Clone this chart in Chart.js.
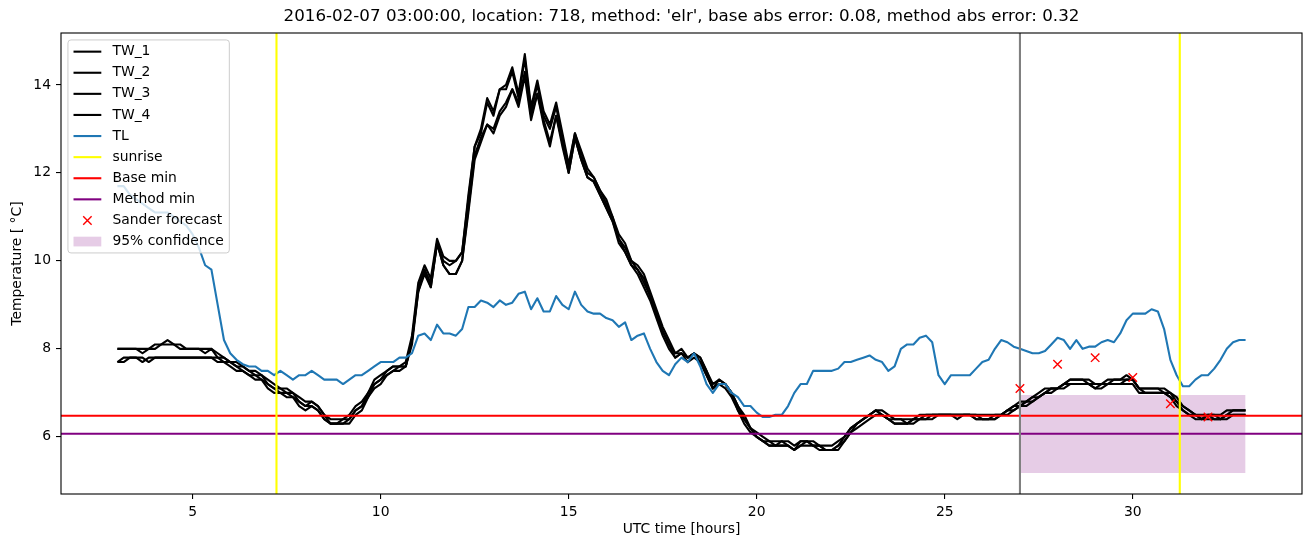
<!DOCTYPE html>
<html>
<head>
<meta charset="utf-8">
<title>TW / TL temperatures, location 718</title>
<script src="https://cdn.jsdelivr.net/npm/chart.js@4.4.1/dist/chart.umd.min.js"></script>
<style>
  html, body { margin: 0; padding: 0; background: #fff; }
  canvas { display: block; }
</style>
</head>
<body>
<canvas id="chart" width="1310" height="547"></canvas>
<script>
// samples every 10 minutes, from hour 3 to hour 33
const START_HOUR = 3;
const SAMPLES_PER_HOUR = 6;

const TW_1 = [
  8.0, 8.0, 8.0, 8.0, 7.9, 8.0, 8.1, 8.1, 8.2, 8.1,
  8.0, 8.0, 8.0, 8.0, 7.9, 8.0, 7.9, 7.8, 7.7, 7.7,
  7.6, 7.5, 7.5, 7.4, 7.3, 7.2, 7.1, 7.1, 7.0, 6.9,
  6.8, 6.8, 6.7, 6.5, 6.4, 6.4, 6.4, 6.5, 6.7, 6.8,
  7.0, 7.3, 7.4, 7.5, 7.6, 7.6, 7.7, 8.3, 9.5, 9.9,
  9.6, 10.5, 10.1, 10.0, 10.0, 10.2, 11.5, 12.6, 13.0, 13.7,
  13.4, 13.9, 14.0, 14.4, 13.8, 14.7, 13.5, 14.1, 13.4, 13.1,
  13.6, 12.9, 12.2, 12.9, 12.5, 12.1, 11.9, 11.6, 11.4, 11.0,
  10.6, 10.4, 10.0, 9.9, 9.7, 9.3, 8.9, 8.5, 8.2, 7.9,
  8.0, 7.8, 7.9, 7.8, 7.5, 7.2, 7.3, 7.2, 7.0, 6.7,
  6.5, 6.2, 6.1, 6.0, 5.9, 5.9, 5.9, 5.9, 5.8, 5.9,
  5.9, 5.9, 5.8, 5.8, 5.8, 5.9, 6.0, 6.2, 6.3, 6.4,
  6.5, 6.6, 6.6, 6.5, 6.4, 6.4, 6.4, 6.4, 6.5, 6.5,
  6.5, 6.5, 6.5, 6.5, 6.5, 6.5, 6.5, 6.5, 6.5, 6.5,
  6.5, 6.5, 6.6, 6.7, 6.8, 6.8, 6.9, 7.0, 7.1, 7.1,
  7.1, 7.2, 7.3, 7.3, 7.3, 7.3, 7.2, 7.2, 7.3, 7.3,
  7.3, 7.4, 7.3, 7.1, 7.1, 7.1, 7.1, 7.1, 7.0, 6.9,
  6.7, 6.6, 6.5, 6.5, 6.5, 6.5, 6.5, 6.6, 6.6, 6.6,
  6.6
];
const TW_2 = [
  8.0, 8.0, 8.0, 8.0, 8.0, 8.0, 8.0, 8.1, 8.1, 8.1,
  8.1, 8.0, 8.0, 8.0, 8.0, 8.0, 7.8, 7.8, 7.7, 7.6,
  7.6, 7.5, 7.4, 7.4, 7.2, 7.1, 7.1, 7.0, 7.0, 6.8,
  6.7, 6.8, 6.7, 6.5, 6.3, 6.3, 6.4, 6.4, 6.6, 6.7,
  7.0, 7.2, 7.3, 7.5, 7.6, 7.6, 7.6, 8.2, 9.4, 9.8,
  9.5, 10.4, 10.0, 9.9, 10.0, 10.2, 11.4, 12.6, 12.9, 13.6,
  13.3, 13.9, 13.9, 14.3, 13.7, 14.6, 13.4, 14.0, 13.3, 13.0,
  13.5, 12.8, 12.1, 12.9, 12.4, 12.0, 11.9, 11.6, 11.3, 11.0,
  10.5, 10.3, 10.0, 9.8, 9.6, 9.2, 8.8, 8.4, 8.1, 7.9,
  7.9, 7.8, 7.9, 7.8, 7.5, 7.1, 7.3, 7.2, 7.0, 6.7,
  6.4, 6.2, 6.0, 5.9, 5.9, 5.8, 5.9, 5.8, 5.7, 5.9,
  5.9, 5.8, 5.8, 5.7, 5.7, 5.8, 6.0, 6.2, 6.3, 6.4,
  6.5, 6.6, 6.5, 6.4, 6.4, 6.4, 6.3, 6.4, 6.4, 6.5,
  6.5, 6.5, 6.5, 6.5, 6.5, 6.5, 6.5, 6.5, 6.4, 6.4,
  6.5, 6.5, 6.6, 6.7, 6.7, 6.8, 6.9, 6.9, 7.0, 7.1,
  7.1, 7.2, 7.3, 7.3, 7.3, 7.2, 7.2, 7.2, 7.2, 7.3,
  7.3, 7.3, 7.3, 7.1, 7.1, 7.1, 7.1, 7.0, 7.0, 6.8,
  6.7, 6.6, 6.5, 6.4, 6.5, 6.5, 6.4, 6.5, 6.6, 6.6,
  6.6
];
const TW_3 = [
  7.7, 7.7, 7.8, 7.8, 7.7, 7.8, 7.8, 7.8, 7.8, 7.8,
  7.8, 7.8, 7.8, 7.8, 7.8, 7.8, 7.8, 7.7, 7.7, 7.6,
  7.5, 7.4, 7.4, 7.3, 7.2, 7.1, 7.0, 7.0, 6.9, 6.8,
  6.7, 6.7, 6.6, 6.4, 6.3, 6.3, 6.3, 6.4, 6.6, 6.7,
  6.9, 7.2, 7.3, 7.4, 7.5, 7.6, 7.6, 8.2, 9.3, 9.8,
  9.4, 10.4, 9.9, 9.7, 9.7, 10.0, 11.2, 12.4, 12.8, 13.1,
  13.0, 13.4, 13.6, 13.9, 13.6, 14.3, 13.3, 13.8, 13.2, 12.7,
  13.3, 12.7, 12.0, 12.8, 12.3, 11.9, 11.8, 11.5, 11.2, 10.9,
  10.5, 10.2, 9.9, 9.8, 9.5, 9.2, 8.8, 8.4, 8.1, 7.8,
  7.9, 7.8, 7.9, 7.7, 7.4, 7.1, 7.2, 7.2, 7.0, 6.6,
  6.4, 6.2, 6.0, 5.9, 5.8, 5.8, 5.8, 5.8, 5.7, 5.8,
  5.9, 5.8, 5.8, 5.7, 5.7, 5.8, 5.9, 6.1, 6.3, 6.4,
  6.5, 6.6, 6.5, 6.4, 6.3, 6.3, 6.3, 6.4, 6.4, 6.4,
  6.5, 6.5, 6.5, 6.5, 6.5, 6.5, 6.5, 6.4, 6.4, 6.4,
  6.4, 6.5, 6.6, 6.6, 6.7, 6.8, 6.8, 6.9, 7.0, 7.1,
  7.1, 7.2, 7.2, 7.2, 7.2, 7.2, 7.1, 7.2, 7.2, 7.2,
  7.2, 7.3, 7.3, 7.1, 7.0, 7.0, 7.0, 7.0, 6.9, 6.8,
  6.6, 6.5, 6.5, 6.4, 6.5, 6.4, 6.4, 6.5, 6.5, 6.5,
  6.5
];
const TW_4 = [
  7.7, 7.8, 7.8, 7.8, 7.8, 7.7, 7.8, 7.8, 7.8, 7.8,
  7.8, 7.8, 7.8, 7.8, 7.8, 7.8, 7.7, 7.7, 7.6, 7.5,
  7.5, 7.4, 7.3, 7.3, 7.1, 7.0, 7.0, 6.9, 6.9, 6.7,
  6.6, 6.7, 6.6, 6.4, 6.3, 6.3, 6.3, 6.3, 6.5, 6.6,
  6.9, 7.1, 7.2, 7.4, 7.5, 7.5, 7.6, 8.1, 9.3, 9.7,
  9.4, 10.4, 9.9, 9.7, 9.7, 10.0, 11.1, 12.3, 12.7, 13.1,
  12.9, 13.3, 13.5, 13.9, 13.5, 14.2, 13.2, 13.8, 13.1, 12.6,
  13.3, 12.6, 12.0, 12.8, 12.3, 11.9, 11.8, 11.5, 11.2, 10.9,
  10.4, 10.2, 9.9, 9.7, 9.4, 9.1, 8.7, 8.3, 8.0, 7.8,
  7.9, 7.7, 7.8, 7.7, 7.4, 7.1, 7.2, 7.1, 6.9, 6.6,
  6.3, 6.1, 6.0, 5.9, 5.8, 5.8, 5.8, 5.8, 5.7, 5.8,
  5.8, 5.8, 5.7, 5.7, 5.7, 5.7, 5.9, 6.1, 6.2, 6.3,
  6.4, 6.5, 6.5, 6.4, 6.3, 6.3, 6.3, 6.3, 6.4, 6.4,
  6.4, 6.5, 6.5, 6.5, 6.4, 6.5, 6.5, 6.4, 6.4, 6.4,
  6.4, 6.5, 6.5, 6.6, 6.7, 6.7, 6.8, 6.9, 7.0, 7.0,
  7.1, 7.1, 7.2, 7.2, 7.2, 7.2, 7.1, 7.1, 7.2, 7.2,
  7.2, 7.2, 7.2, 7.0, 7.0, 7.0, 7.0, 7.0, 6.9, 6.7,
  6.6, 6.5, 6.4, 6.4, 6.4, 6.4, 6.4, 6.4, 6.5, 6.5,
  6.5
];
const TL = [
  11.7, 11.7, 11.5, 11.4, 11.3, 11.2, 11.1, 11.1, 11.1, 11.0,
  10.9, 10.8, 10.6, 10.3, 9.9, 9.8, 9.0, 8.2, 7.9, 7.75,
  7.65, 7.6, 7.6, 7.5, 7.5, 7.4, 7.5, 7.4, 7.3, 7.4,
  7.4, 7.5, 7.4, 7.3, 7.3, 7.3, 7.2, 7.3, 7.4, 7.4,
  7.5, 7.6, 7.7, 7.7, 7.7, 7.8, 7.8, 7.9, 8.3, 8.35,
  8.2, 8.55, 8.35, 8.35, 8.3, 8.45, 8.95, 8.95, 9.1, 9.05,
  8.95, 9.1, 9.0, 9.05, 9.25, 9.3, 8.9, 9.15, 8.85, 8.85,
  9.2, 9.0, 8.9, 9.3, 9.0, 8.85, 8.8, 8.8, 8.7, 8.65,
  8.5, 8.6, 8.2, 8.3, 8.35, 8.0, 7.7, 7.5, 7.4, 7.65,
  7.8, 7.7, 7.9, 7.6, 7.2, 7.0, 7.2, 7.2, 7.0, 6.9,
  6.7, 6.7, 6.55, 6.45, 6.45, 6.5, 6.5, 6.7, 7.0, 7.2,
  7.2, 7.5, 7.5, 7.5, 7.5, 7.55, 7.7, 7.7, 7.75, 7.8,
  7.85, 7.75, 7.7, 7.5, 7.6, 8.0, 8.1, 8.1, 8.25, 8.3,
  8.15, 7.4, 7.2, 7.4, 7.4, 7.4, 7.4, 7.55, 7.7, 7.75,
  8.0, 8.2, 8.15, 8.05, 8.0, 7.95, 7.9, 7.9, 7.95, 8.1,
  8.25, 8.2, 8.0, 8.2, 8.0, 8.05, 8.05, 8.15, 8.2, 8.15,
  8.35, 8.65, 8.8, 8.8, 8.8, 8.9, 8.85, 8.45, 7.75, 7.4,
  7.15, 7.15, 7.3, 7.4, 7.4, 7.55, 7.75, 8.0, 8.15, 8.2,
  8.2
];

const SUNRISE_HOURS = [7.23, 31.25];
const FORECAST_HOUR = 27;
const BASE_MIN = 6.48;
const METHOD_MIN = 6.07;
const SANDER_HOURS = [27, 28, 29, 30, 31, 32];
const SANDER_VALUES = [7.1, 7.65, 7.8, 7.35, 6.75, 6.45];
const CONF_HOURS = [27, 33];
const CONF_LOW = [5.18, 5.18];
const CONF_HIGH = [6.95, 6.95];

const X_RANGE = [1.5, 34.5];
const Y_RANGE = [4.7, 15.18];
const X_TICKS = [5, 10, 15, 20, 25, 30];
const Y_TICKS = [6, 8, 10, 12, 14];

const TITLE = "2016-02-07 03:00:00, location: 718, method: 'elr', base abs error: 0.08, method abs error: 0.32";

const HOURS = TL.map((_, i) => START_HOUR + i / SAMPLES_PER_HOUR);

const FONT_FAMILY = '"DejaVu Sans", "Liberation Sans", sans-serif';
const FS = 13.9;
const LW = 2.1;

const series = (ys) => ys.map((y, i) => ({ x: HOURS[i], y }));

function lineSet(label, data, color, order, legendKind) {
    return {
        label, data, order, legendKind,
        borderColor: color,
        backgroundColor: color,
        borderWidth: LW,
        borderJoinStyle: 'round',
        pointRadius: 0,
        fill: false,
        tension: 0
    };
}

const vline = (h) => [{ x: h, y: Y_RANGE[0] }, { x: h, y: Y_RANGE[1] }];
const hline = (v) => [{ x: X_RANGE[0], y: v }, { x: X_RANGE[1], y: v }];

const datasets = [
    lineSet('TW_1', series(TW_1), '#000000', 10, 'line'),
    lineSet('TW_2', series(TW_2), '#000000', 10, 'line'),
    lineSet('TW_3', series(TW_3), '#000000', 10, 'line'),
    lineSet('TW_4', series(TW_4), '#000000', 10, 'line'),
    lineSet('TL', series(TL), '#1f77b4', 9, 'line'),
    lineSet('sunrise', vline(SUNRISE_HOURS[0]), '#ffff00', 8, 'line'),
    lineSet('sunrise2', vline(SUNRISE_HOURS[1]), '#ffff00', 8, null),
    lineSet('Base min', hline(BASE_MIN), '#ff0000', 8, 'line'),
    lineSet('Method min', hline(METHOD_MIN), '#800080', 8, 'line'),
    {
        label: 'Sander forecast',
        legendKind: 'marker',
        data: SANDER_HOURS.map((h, i) => ({ x: h, y: SANDER_VALUES[i] })),
        showLine: false,
        pointStyle: 'crossRot',
        pointRadius: 6,
        pointBorderWidth: 1.4,
        pointBorderColor: '#ff0000',
        pointBackgroundColor: '#ff0000',
        borderColor: '#ff0000',
        order: 7
    },
    lineSet('forecast start', vline(FORECAST_HOUR), '#808080', 7, null),
    {
        label: 'conf low',
        data: CONF_HOURS.map((h, i) => ({ x: h, y: CONF_LOW[i] })),
        borderColor: 'rgba(0,0,0,0)',
        borderWidth: 0,
        pointRadius: 0,
        fill: false,
        order: 20
    },
    {
        label: '95% confidence',
        legendKind: 'patch',
        data: CONF_HOURS.map((h, i) => ({ x: h, y: CONF_HIGH[i] })),
        borderColor: 'rgba(0,0,0,0)',
        borderWidth: 0,
        pointRadius: 0,
        backgroundColor: 'rgba(128,0,128,0.2)',
        fill: '-1',
        order: 20
    }
];

// axes frame, title and the matplotlib-style legend
const decor = {
    id: 'decor',
    afterDatasetsDraw(chart) {
        const { ctx, chartArea: a } = chart;
        ctx.save();
        ctx.strokeStyle = '#000';
        ctx.lineWidth = 1.1;
        ctx.strokeRect(a.left, a.top, a.right - a.left, a.bottom - a.top);
        ctx.restore();
    },
    afterDraw(chart) {
        const { ctx, chartArea: a } = chart;
        ctx.save();
        ctx.fillStyle = '#000';
        ctx.font = `16.7px ${FONT_FAMILY}`;
        ctx.textAlign = 'center';
        ctx.textBaseline = 'middle';
        ctx.fillText(TITLE, (a.left + a.right) / 2, 17);

        const items = chart.data.datasets.filter(d => d.legendKind);
        ctx.font = `${FS}px ${FONT_FAMILY}`;
        const textW = Math.max(...items.map(d => ctx.measureText(d.label).width));
        const pad = 0.4 * FS, handle = 2 * FS, gap = 0.8 * FS, step = 21.1;
        const x0 = a.left + 0.5 * FS, y0 = a.top + 0.5 * FS;
        const w = 2 * pad + handle + gap + textW;
        const h = items.length * step + 2;
        const r = 3;

        ctx.beginPath();
        ctx.moveTo(x0 + r, y0);
        ctx.arcTo(x0 + w, y0, x0 + w, y0 + h, r);
        ctx.arcTo(x0 + w, y0 + h, x0, y0 + h, r);
        ctx.arcTo(x0, y0 + h, x0, y0, r);
        ctx.arcTo(x0, y0, x0 + w, y0, r);
        ctx.closePath();
        ctx.fillStyle = 'rgba(255,255,255,0.8)';
        ctx.fill();
        ctx.strokeStyle = '#cccccc';
        ctx.lineWidth = 1;
        ctx.stroke();

        const hx = x0 + pad;
        items.forEach((d, i) => {
            const cy = y0 + 11.7 + i * step;
            if (d.legendKind === 'line') {
                ctx.beginPath();
                ctx.moveTo(hx, cy);
                ctx.lineTo(hx + handle, cy);
                ctx.strokeStyle = d.borderColor;
                ctx.lineWidth = LW;
                ctx.stroke();
            } else if (d.legendKind === 'marker') {
                const cx = hx + handle / 2, s = 4.2;
                ctx.beginPath();
                ctx.moveTo(cx - s, cy - s); ctx.lineTo(cx + s, cy + s);
                ctx.moveTo(cx - s, cy + s); ctx.lineTo(cx + s, cy - s);
                ctx.strokeStyle = d.pointBorderColor;
                ctx.lineWidth = d.pointBorderWidth;
                ctx.stroke();
            } else {
                ctx.fillStyle = d.backgroundColor;
                ctx.fillRect(hx, cy - 0.35 * FS, handle, 0.7 * FS);
            }
            ctx.fillStyle = '#000';
            ctx.textAlign = 'left';
            ctx.textBaseline = 'middle';
            ctx.fillText(d.label, hx + handle + gap, cy);
        });
        ctx.restore();
    }
};

const tickFont = { family: FONT_FAMILY, size: FS };
const axisGrid = { drawOnChartArea: false, drawTicks: true, tickLength: 5, color: '#000', lineWidth: 1.1 };

new Chart(document.getElementById('chart'), {
    type: 'line',
    data: { datasets },
    options: {
        responsive: false,
        animation: false,
        devicePixelRatio: 1,
        layout: { padding: { top: 33, right: 8, left: 0, bottom: 0 } },
        plugins: {
            legend: { display: false },
            tooltip: { enabled: false },
            title: { display: false }
        },
        scales: {
            x: {
                type: 'linear',
                min: X_RANGE[0],
                max: X_RANGE[1],
                afterFit(s) { s.height = 53; },
                afterBuildTicks(s) { s.ticks = X_TICKS.map(v => ({ value: v })); },
                grid: axisGrid,
                border: { display: false },
                ticks: { color: '#000', font: tickFont, padding: 5, maxRotation: 0, autoSkip: false },
                title: { display: true, text: 'UTC time [hours]', color: '#000', font: tickFont, padding: { top: 0, bottom: 9 } }
            },
            y: {
                type: 'linear',
                min: Y_RANGE[0],
                max: Y_RANGE[1],
                afterFit(s) { s.width = 61; },
                afterBuildTicks(s) { s.ticks = Y_TICKS.map(v => ({ value: v })); },
                grid: axisGrid,
                border: { display: false },
                ticks: { color: '#000', font: tickFont, padding: 5 },
                title: { display: true, text: 'Temperature [ °C]', color: '#000', font: tickFont, padding: { top: 9, bottom: 0 } }
            }
        }
    },
    plugins: [decor]
});
</script>
</body>
</html>
